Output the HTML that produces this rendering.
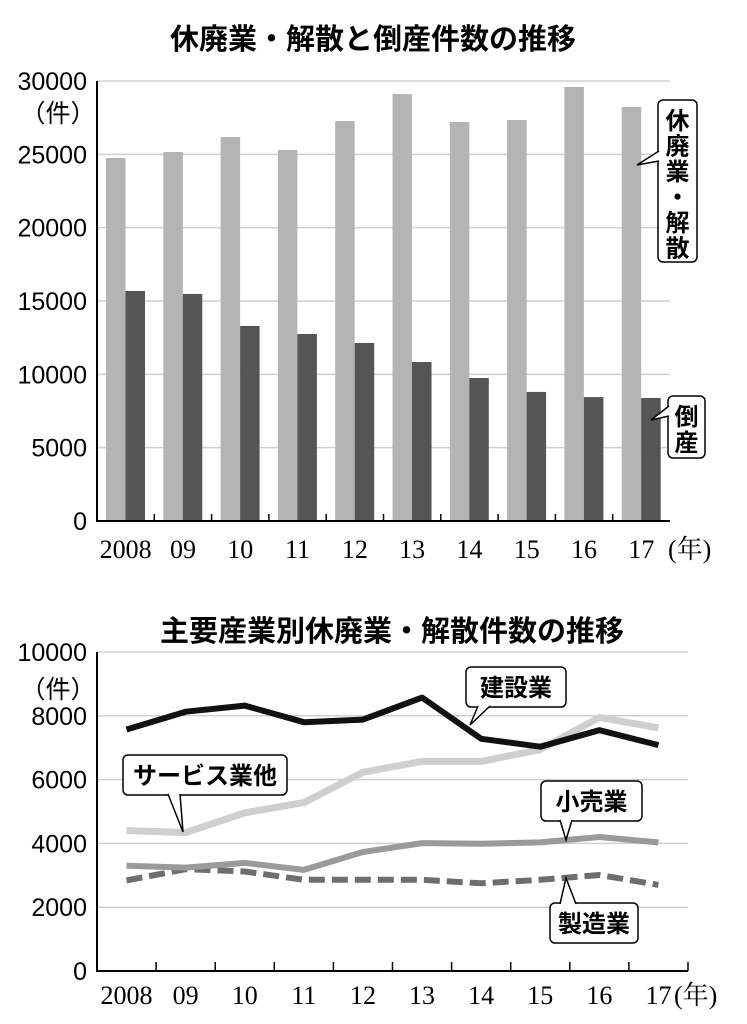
<!DOCTYPE html>
<html><head><meta charset="utf-8"><style>
body{margin:0;background:#fff;}
svg{display:block;}
.t{font-family:"Liberation Sans","Noto Sans CJK JP",sans-serif;font-weight:bold;font-size:29px;}
.y{font-family:"Liberation Sans","Noto Sans CJK JP",sans-serif;font-size:25px;}
.x{font-family:"Liberation Serif","Noto Serif CJK SC",serif;font-size:26px;}
.c{font-family:"Liberation Sans","Noto Sans CJK JP",sans-serif;font-size:24px;font-weight:bold;}
</style></head><body>
<svg id="s" width="747" height="1024" viewBox="0 0 747 1024" xmlns="http://www.w3.org/2000/svg">
<text class="t" x="373" y="49" text-anchor="middle">休廃業・解散と倒産件数の推移</text>
<text class="t" x="392" y="641" text-anchor="middle">主要産業別休廃業・解散件数の推移</text>
<g id="top"></g><g id="bot"></g>
</svg>
<script>
const years=["2008","09","10","11","12","13","14","15","16","17"];
const closures=[24750,25160,26180,25300,27270,29110,27200,27340,29590,28230];
const bankrupt=[15680,15480,13300,12750,12140,10840,9750,8800,8450,8390];
const topTicks=[0,5000,10000,15000,20000,25000,30000];
const botTicks=[0,2000,4000,6000,8000,10000];
const construction=[7570,8130,8320,7800,7880,8570,7280,7030,7550,7080];
const services=[4400,4340,4960,5280,6230,6570,6570,6940,7950,7620];
const retail=[3300,3240,3390,3170,3730,4010,3990,4030,4200,4030];
const manufacturing=[2840,3190,3120,2860,2860,2860,2750,2860,3010,2700];
const NS="http://www.w3.org/2000/svg";
function mk(p,tag,a,txt){const e=document.createElementNS(NS,tag);for(const k in a)e.setAttribute(k,a[k]);if(txt!==undefined)e.textContent=txt;p.appendChild(e);return e;}
const T=document.getElementById('top');
const tx0=97,tx1=670,ty0=521,ty1=81,tmax=30000,tw=(tx1-tx0)/10;
const tY=v=>ty0-(v/tmax)*(ty0-ty1);
topTicks.forEach(v=>{
 if(v>0){const g=mk(T,'line',{x1:tx0,x2:tx1,y1:tY(v),y2:tY(v),stroke:'#d0d0d0','stroke-width':1.5});
 
 }
 const l=mk(T,'text',{class:'y',x:87,y:tY(v)+9,'text-anchor':'end'},String(v));
 
 
});
let u=mk(T,'text',{class:'y',x:58,y:122,'text-anchor':'middle'},'（件）');


years.forEach((yr,i)=>{
 const x=tx0+i*tw;
 const b1=mk(T,'rect',{x:x+9,y:tY(closures[i]),width:19.5,height:ty0-tY(closures[i]),fill:'#b4b4b4'});
 
 
 const b2=mk(T,'rect',{x:x+28.5,y:tY(bankrupt[i]),width:19.5,height:ty0-tY(bankrupt[i]),fill:'#555'});
 
 
 if(i>0){const tk=mk(T,'line',{x1:x,x2:x,y1:ty0,y2:ty0-7,stroke:'#000','stroke-width':1.5});
 
 }
 const lb=mk(T,'text',{class:'x',x:x+tw/2,y:558,'text-anchor':'middle'},yr);
 
 
});
let ax=mk(T,'path',{d:`M${tx0} ${ty1}V${ty0}H${tx1}`,fill:'none',stroke:'#000','stroke-width':2});


let yu=mk(T,'text',{class:'x',x:668,y:558},'(年)');


function vbox(p,x,y,w,h,chars,px,py,name,step){
 const g=mk(p,'g',{});
 
 
 mk(g,'rect',{x:x,y:y,width:w,height:h,rx:5,fill:'#fff',stroke:'#000','stroke-width':1.5});
 mk(g,'path',{d:`M${x+1} ${py-14}L${px} ${py}L${x+1} ${py-4}`,fill:'#fff',stroke:'#000','stroke-width':1.5});
 chars.forEach((c,i)=>mk(g,'text',{class:'c',x:x+w/2,y:y+29+i*step,'text-anchor':'middle'},c));
}
vbox(T,658,100,39,162,['休','廃','業','・','解','散'],637,165,'label-closures',25.5);
vbox(T,668,396,37,62,['倒','産'],651,420,'label-bankruptcy',26);
const B=document.getElementById('bot');
const bx0=97,bx1=688,by0=971,by1=652,bmax=10000,bw=(bx1-bx0)/10;
const bY=v=>by0-(v/bmax)*(by0-by1);
const bX=i=>bx0+bw/2+i*bw;
botTicks.forEach(v=>{
 if(v>0){const g=mk(B,'line',{x1:bx0,x2:bx1,y1:bY(v),y2:bY(v),stroke:'#d0d0d0','stroke-width':1.5});
 
 }
 const l=mk(B,'text',{class:'y',x:87,y:bY(v)+9,'text-anchor':'end'},String(v));
 
 
});
u=mk(B,'text',{class:'y',x:58,y:698,'text-anchor':'middle'},'（件）');


years.forEach((yr,i)=>{
 const x=bx0+(i+1)*bw;
 const tk=mk(B,'line',{x1:x,x2:x,y1:by0,y2:by0-9,stroke:'#000','stroke-width':1.5});
 
 
 const lb=mk(B,'text',{class:'x',x:bX(i),y:1004,'text-anchor':'middle'},yr);
 
 
});
function line(arr,col,w,dash,name){
 const d=arr.map((v,i)=>(i?'L':'M')+bX(i).toFixed(1)+' '+bY(v).toFixed(1)).join('');
 const a={d:d,fill:'none',stroke:col,'stroke-width':w,'stroke-linejoin':'round'};
 if(dash)a['stroke-dasharray']=dash;
 const p=mk(B,'path',a);
 
 
}
line(manufacturing,'#6e6e6e',6,'16 7','line-manufacturing');
line(retail,'#9a9a9a',6,null,'line-retail');
line(services,'#cfcfcf',7,null,'line-services');
line(construction,'#111',6,null,'line-construction');
ax=mk(B,'path',{d:`M${bx0} ${by1}V${by0}H${bx1}`,fill:'none',stroke:'#000','stroke-width':2});


yu=mk(B,'text',{class:'x',x:674,y:1004},'(年)');


function hbox(x,y,w,h,label,tip,base,name){
 const g=mk(B,'g',{});
 
 
 mk(g,'rect',{x:x,y:y,width:w,height:h,rx:5,fill:'#fff',stroke:'#000','stroke-width':1.5});
 mk(g,'path',{d:`M${base[0]} ${base[1]}L${tip[0]} ${tip[1]}L${base[2]} ${base[3]}`,fill:'#fff',stroke:'#000','stroke-width':1.5});
 mk(g,'text',{class:'c',x:x+w/2,y:y+h/2+9,'text-anchor':'middle'},label);
}
hbox(466,667,100,40,'建設業',[470,725],[478,706,490,706],'label-construction');
hbox(123,755,164,40,'サービス業他',[183,832],[168,794,180,794],'label-services');
hbox(541,781,101,40,'小売業',[566,840],[560,820,572,820],'label-retail');
hbox(550,903,88,40,'製造業',[566,878],[560,904,576,904],'label-manufacturing');
</script>
</body></html>
